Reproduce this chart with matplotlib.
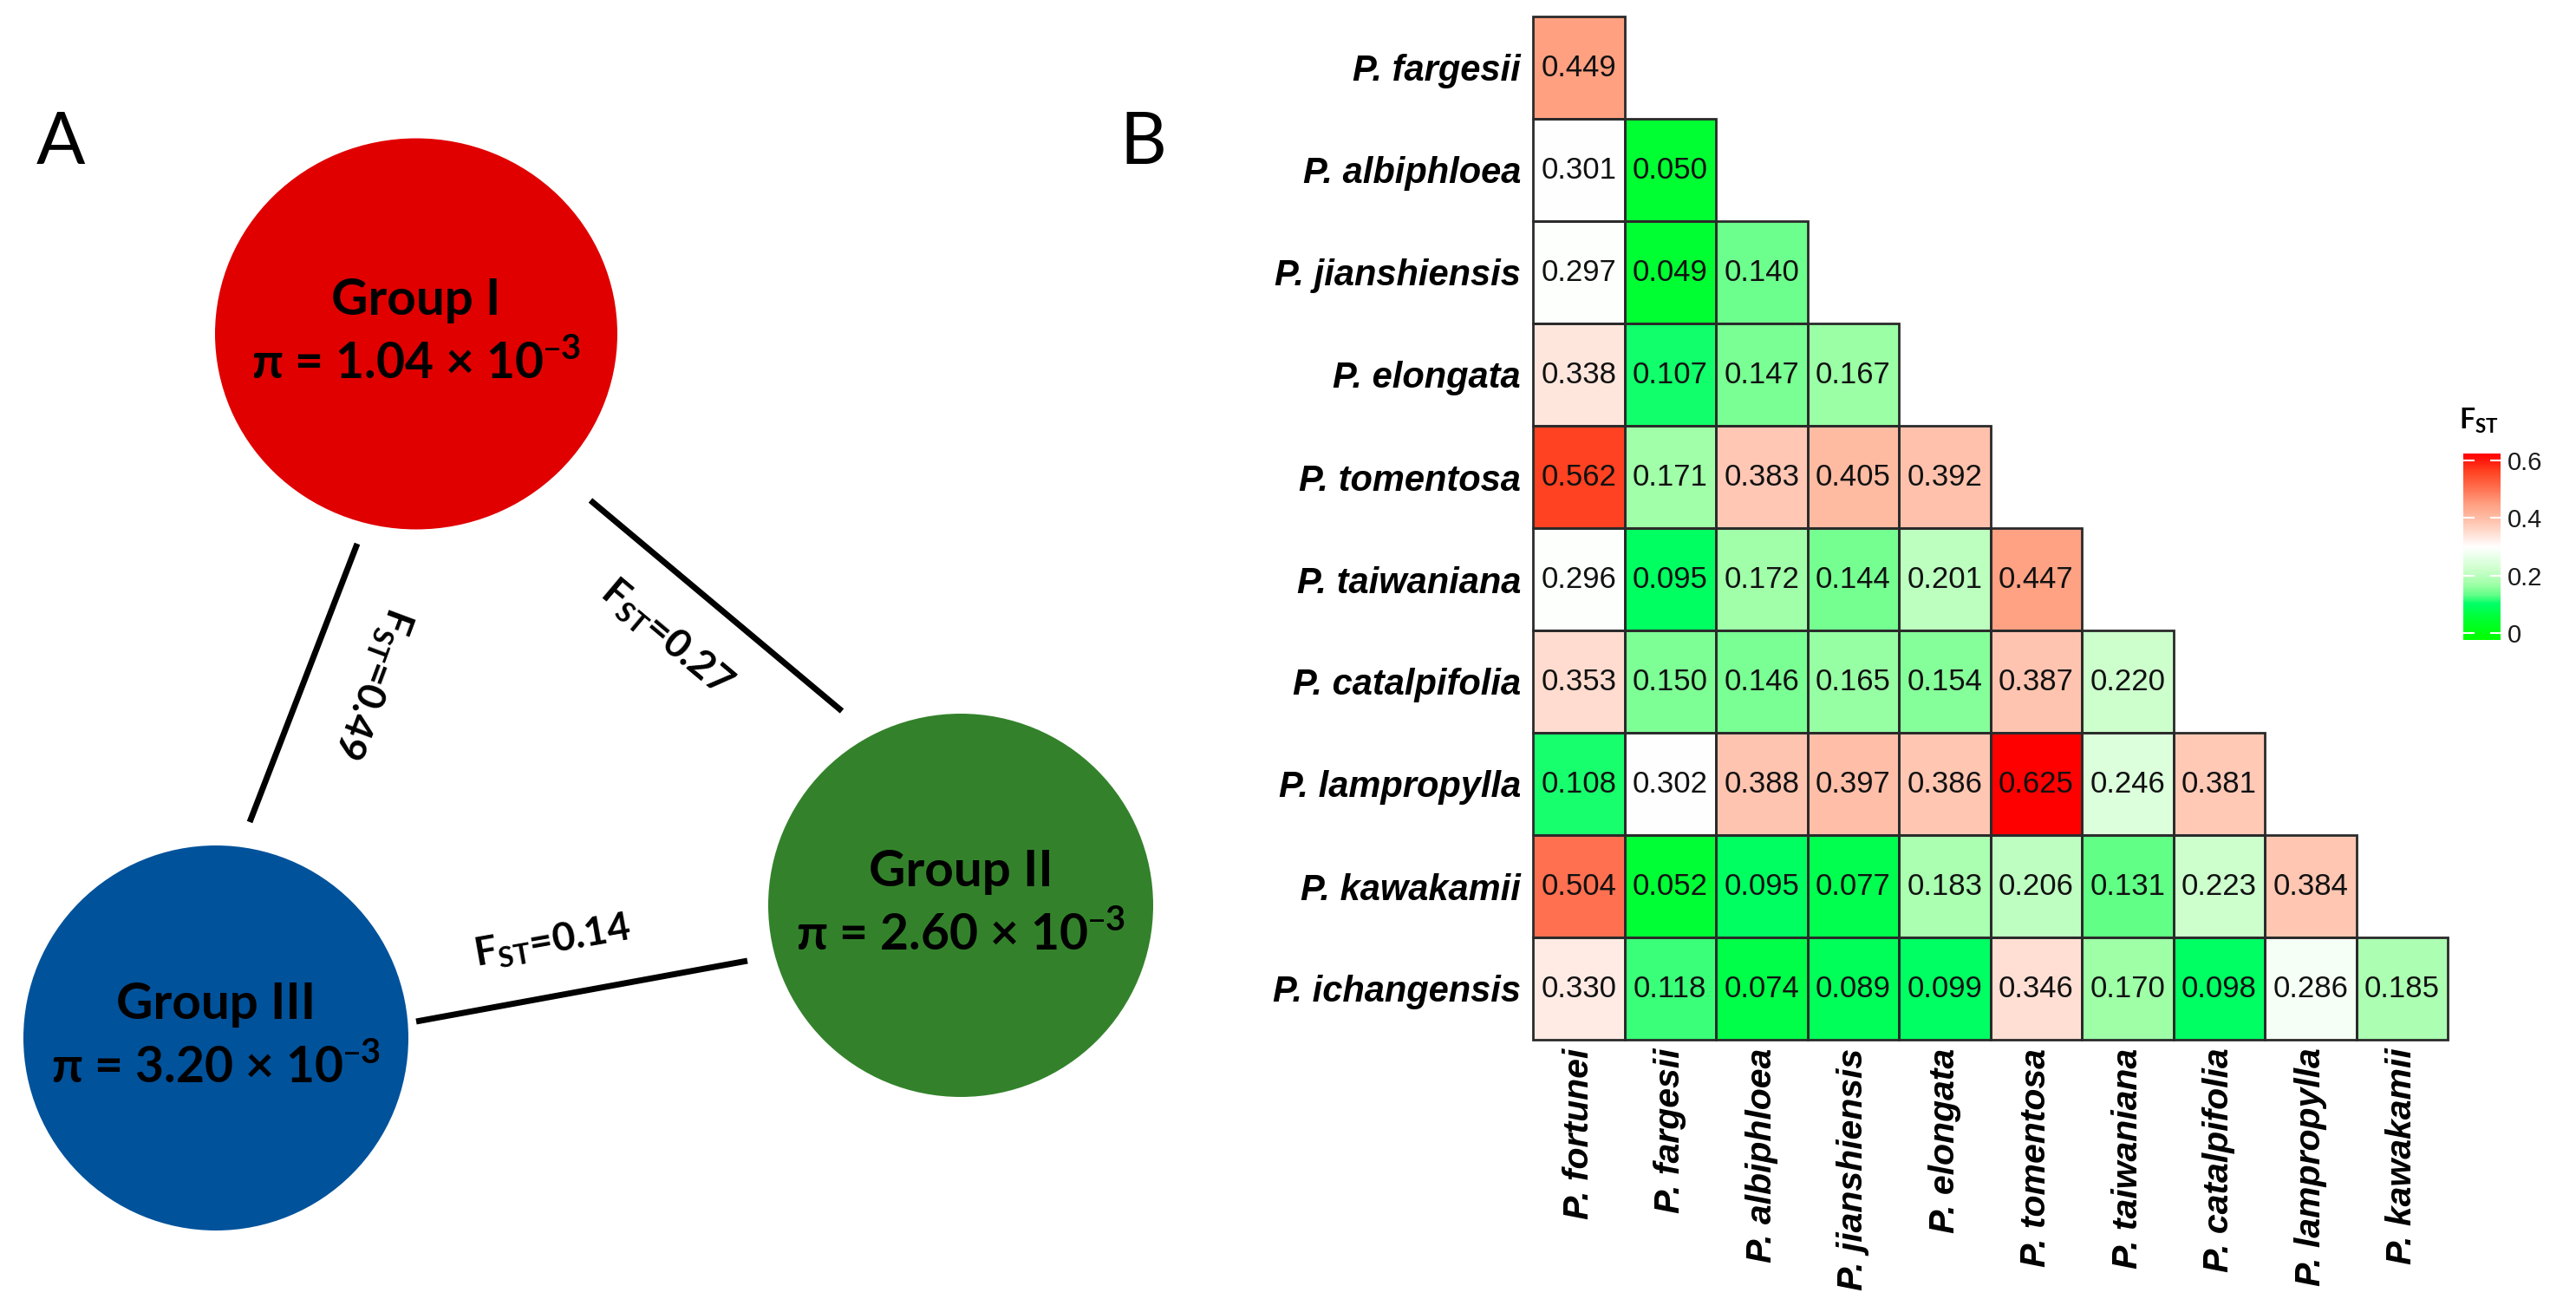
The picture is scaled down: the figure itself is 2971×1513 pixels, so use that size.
import numpy as np
import matplotlib
matplotlib.use('Agg')
import matplotlib.pyplot as plt
from matplotlib.patches import Ellipse, Rectangle
from matplotlib.colors import LinearSegmentedColormap, Normalize

# ---- panel A data ----
groups = ['Group I', 'Group II', 'Group III']
pi_vals = [1.04, 2.60, 3.20]
group_colors = ['#e00000', '#33822b', '#00529b']
pair_fst = [0.49, 0.27, 0.14]  # I-III, I-II, III-II

# ---- panel B data ----
row_names = ['P. fargesii', 'P. albiphloea', 'P. jianshiensis', 'P. elongata', 'P. tomentosa',
             'P. taiwaniana', 'P. catalpifolia', 'P. lampropylla', 'P. kawakamii', 'P. ichangensis']
col_names = ['P. fortunei', 'P. fargesii', 'P. albiphloea', 'P. jianshiensis', 'P. elongata',
             'P. tomentosa', 'P. taiwaniana', 'P. catalpifolia', 'P. lampropylla', 'P. kawakamii']
fst_rows = [
    [0.449],
    [0.301, 0.050],
    [0.297, 0.049, 0.140],
    [0.338, 0.107, 0.147, 0.167],
    [0.562, 0.171, 0.383, 0.405, 0.392],
    [0.296, 0.095, 0.172, 0.144, 0.201, 0.447],
    [0.353, 0.150, 0.146, 0.165, 0.154, 0.387, 0.220],
    [0.108, 0.302, 0.388, 0.397, 0.386, 0.625, 0.246, 0.381],
    [0.504, 0.052, 0.095, 0.077, 0.183, 0.206, 0.131, 0.223, 0.384],
    [0.330, 0.118, 0.074, 0.089, 0.099, 0.346, 0.170, 0.098, 0.286, 0.185],
]
cbar_ticks = [0, 0.2, 0.4, 0.6]
cbar_labels = ['0', '0.2', '0.4', '0.6']

W, H = 2971, 1513
fig = plt.figure(figsize=(W / 100, H / 100), dpi=100)

# ---------------- panel A (pixel coordinates) ----------------
ax0 = fig.add_axes([0, 0, 1, 1])
ax0.set_xlim(0, W)
ax0.set_ylim(H, 0)
ax0.axis('off')

circ_xy = [(480, 385), (1108, 1044), (249, 1197)]
circ_wh = [(464, 451), (444, 442), (444, 444)]
gfont = ['Lato', 'DejaVu Sans']
for k in range(3):
    cx, cy = circ_xy[k]
    ax0.add_patch(Ellipse((cx, cy), circ_wh[k][0], circ_wh[k][1], color=group_colors[k], lw=0))
    ax0.text(cx, cy - 22, groups[k], ha='center', va='baseline', fontsize=42,
             fontweight='bold', family=gfont)
    ax0.text(cx, cy + 52, 'π = %.2f × 10$^{\\mathregular{–3}}$' % pi_vals[k], ha='center',
             va='baseline', fontsize=41, fontweight='bold', family=gfont)

seg_xy = [((412, 627), (288, 948)), ((681, 577), (971, 820)), ((480, 1178), (862, 1108))]
lab_xy = [(429, 787), (768, 736), (637, 1086)]
lab_rot = [-110.5, -40, 10]
for k in range(3):
    (x1, y1), (x2, y2) = seg_xy[k]
    ax0.plot([x1, x2], [y1, y2], color='black', lw=5, solid_capstyle='butt')
    ax0.text(lab_xy[k][0], lab_xy[k][1], 'F$_{\\mathregular{ST}}$=%.2f' % pair_fst[k],
             ha='center', va='center', rotation=lab_rot[k], rotation_mode='anchor',
             fontsize=33, fontweight='bold', family=gfont)

ax0.text(70, 189, 'A', ha='center', va='baseline', fontsize=60, family=gfont)
ax0.text(1318, 189, 'B', ha='center', va='baseline', fontsize=60, family=gfont)

# ---------------- panel B heatmap ----------------
n = len(row_names)
M = np.full((n, len(col_names)), np.nan)
for i, r in enumerate(fst_rows):
    M[i, :len(r)] = r

anchors = [(-0.025, '#00ff00'), (0.0, '#00ff10'), (0.05, '#00ff33'), (0.1, '#00ff66'),
           (0.13, '#60ff86'), (0.17, '#a0ffa8'), (0.22, '#ccffcc'), (0.3, '#ffffff'),
           (0.34, '#ffe4da'), (0.385, '#ffc6b2'), (0.45, '#ff9f80'), (0.505, '#ff7050'),
           (0.562, '#ff4422'), (0.625, '#ff0000')]
vmin, vmax = anchors[0][0], anchors[-1][0]
cmap = LinearSegmentedColormap.from_list(
    'fst', [((a - vmin) / (vmax - vmin), c) for a, c in anchors])
norm = Normalize(vmin, vmax)

hx0, hx1, hy0, hy1 = 1768, 2823, 19, 1199
ax = fig.add_axes([hx0 / W, 1 - hy1 / H, (hx1 - hx0) / W, (hy1 - hy0) / H])
mesh = ax.pcolormesh(np.ma.masked_invalid(M), cmap=cmap, norm=norm, edgecolors='none')
ax.set_xlim(0, len(col_names))
ax.set_ylim(n, 0)
for i in range(n):
    for j in range(len(fst_rows[i])):
        ax.add_patch(Rectangle((j, i), 1, 1, fill=False, ec='#2a2a2a', lw=2, clip_on=False))
        ax.text(j + 0.5, i + 0.5, '%.3f' % fst_rows[i][j], ha='center', va='center',
                fontsize=25, family='Liberation Sans', color='#111111')
for s in ax.spines.values():
    s.set_visible(False)
ax.set_xticks(np.arange(len(col_names)) + 0.5)
ax.set_yticks(np.arange(n) + 0.5)
ax.set_xticklabels(col_names, rotation=90, fontsize=29.5, family='Liberation Sans',
                   fontweight='bold', fontstyle='italic', va='top', ha='center')
ax.set_yticklabels(row_names, fontsize=30, family='Liberation Sans',
                   fontweight='bold', fontstyle='italic')
ax.tick_params(axis='x', length=0, pad=7)
ax.tick_params(axis='y', length=0, pad=10)

# ---------------- colour bar ----------------
cb0, cb1, cby0, cby1 = 2841, 2884, 523, 738
cax = fig.add_axes([cb0 / W, 1 - cby1 / H, (cb1 - cb0) / W, (cby1 - cby0) / H])
cb = fig.colorbar(mesh, cax=cax)
cb.outline.set_visible(False)
cb.set_ticks(cbar_ticks)
cb.set_ticklabels(cbar_labels)
cax.tick_params(direction='in', colors='white', length=9, width=1.5, left=True, right=True,
                labelleft=False, labelright=True, labelcolor='#1a1a1a', labelsize=21, pad=6)
for t in cax.get_yticklabels():
    t.set_family('Liberation Sans')
ax0.text(2836, 495, 'F$_{\\mathregular{ST}}$', ha='left', va='baseline', fontsize=23,
         fontweight='bold', family=gfont)

fig.savefig('out.png', dpi=100)
